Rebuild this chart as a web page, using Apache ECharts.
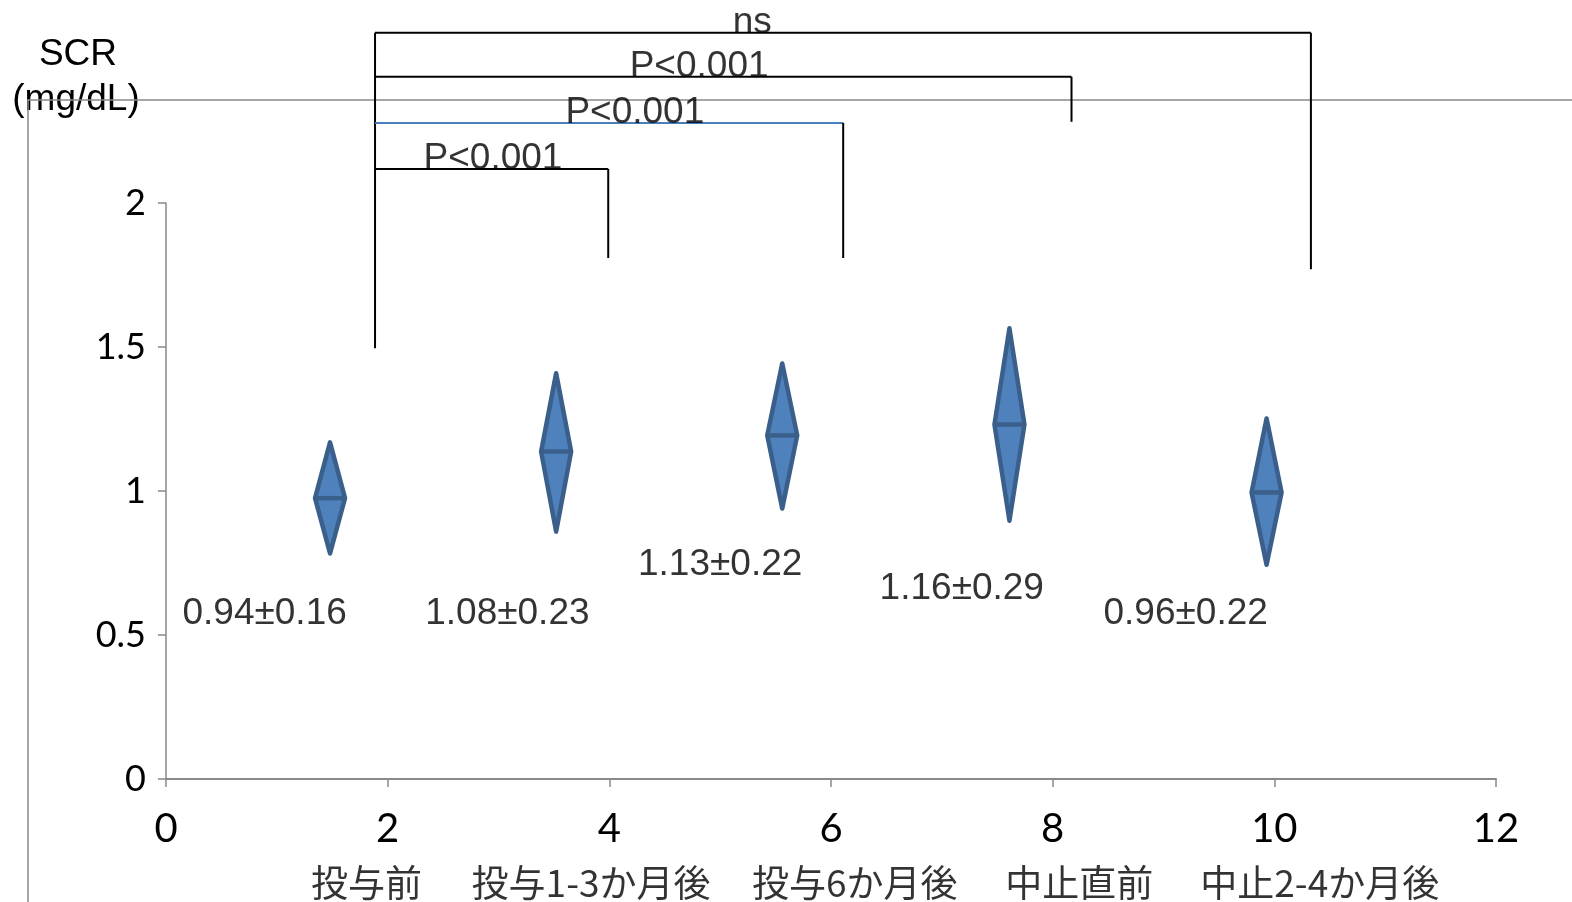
<!DOCTYPE html>
<html>
<head>
<meta charset="utf-8">
<script src="https://cdn.jsdelivr.net/npm/echarts@6/dist/echarts.min.js"></script>
<style>
html,body{margin:0;padding:0;background:#fff;}
#chart{width:1572px;height:902px;}
</style>
</head>
<body>
<div id="chart"></div>
<script>
// ---- data ----
const xPositions = [1.48, 3.52, 5.56, 7.61, 9.93];
const means      = [0.975, 1.137, 1.193, 1.231, 0.995];
const upperVals  = [1.169, 1.409, 1.443, 1.565, 1.252];
const lowerVals  = [0.783, 0.859, 0.939, 0.897, 0.744];

const valueLabelText = ['0.94±0.16', '1.08±0.23', '1.13±0.22', '1.16±0.29', '0.96±0.22'];
const valueLabelX = [0.89, 3.08, 5.0, 7.18, 9.2];
const valueLabelY = [0.574, 0.574, 0.745, 0.661, 0.574];

const categories = ['投与前', '投与1-3か月後', '投与6か月後', '中止直前', '中止2-4か月後'];
const categoryX = [1.81, 3.835, 6.215, 8.24, 10.41];
const categoryY = -0.36;

const bracketLeftX = 1.886;
const bracketLeftBottom = 1.496;
const bracketRightX = [10.33, 8.17, 6.11, 3.99];
const bracketTopY = [2.591, 2.438, 2.278, 2.118];
const bracketEndY = [1.770, 2.282, 1.809, 1.809];
const bracketLabels = ['ns', 'P<0.001', 'P<0.001', 'P<0.001'];
const bracketLabelX = [5.29, 4.81, 4.23, 2.95];
const bracketLineColors = ['#000000', '#000000', '#4a7ebb', '#000000'];

const yTicks = {min: 0, max: 2, interval: 0.5};
const xTicks = {min: 0, max: 12, interval: 2};

// ---- chart ----
const chart = echarts.init(document.getElementById('chart'), null, {renderer: 'canvas'});
const AX = '#898989';
const latin = "'Liberation Sans', Arial, sans-serif";

const series = [];

// diamonds
series.push({
  type: 'custom',
  xAxisIndex: 0, yAxisIndex: 0,
  clip: false,
  data: xPositions.map((x, i) => [x, means[i], upperVals[i], lowerVals[i]]),
  encode: {x: 0, y: [1, 2, 3]},
  renderItem: function (params, api) {
    const x = api.value(0);
    const mid = api.coord([x, api.value(1)]);
    const top = api.coord([x, api.value(2)]);
    const bot = api.coord([x, api.value(3)]);
    const hw = 15;
    return {
      type: 'group',
      children: [
        {type: 'polygon', shape: {points: [top, [mid[0] + hw, mid[1]], bot, [mid[0] - hw, mid[1]]]},
         style: {fill: '#4f81bd', stroke: '#3a5f8b', lineWidth: 4.5, lineJoin: 'round'}},
        {type: 'line', shape: {x1: mid[0] - hw, y1: mid[1], x2: mid[0] + hw, y2: mid[1]},
         style: {stroke: '#3a5f8b', lineWidth: 4.5}}
      ]
    };
  }
});

// bracket left shared vertical
series.push({
  type: 'line', clip: false, symbol: 'none', silent: true,
  data: [[bracketLeftX, Math.max.apply(null, bracketTopY)], [bracketLeftX, bracketLeftBottom]],
  lineStyle: {color: '#000', width: 2}
});
bracketRightX.forEach((rx, i) => {
  series.push({
    type: 'line', clip: false, symbol: 'none', silent: true,
    data: [[bracketLeftX, bracketTopY[i]], [rx, bracketTopY[i]]],
    lineStyle: {color: bracketLineColors[i], width: 2}
  });
  series.push({
    type: 'line', clip: false, symbol: 'none', silent: true,
    data: [[rx, bracketTopY[i]], [rx, bracketEndY[i]]],
    lineStyle: {color: '#000', width: 2}
  });
});
// bracket labels
series.push({
  type: 'scatter', clip: false, symbolSize: 0, silent: true,
  data: bracketLabelX.map((x, i) => ({value: [x, bracketTopY[i]], name: bracketLabels[i]})),
  label: {show: true, position: 'inside', offset: [0, -10], formatter: p => p.name,
          color: '#000', fontSize: 37, fontFamily: latin},
  z: 5
});
// value labels
series.push({
  type: 'scatter', clip: false, symbolSize: 0, silent: true,
  data: valueLabelX.map((x, i) => ({value: [x, valueLabelY[i]], name: valueLabelText[i]})),
  label: {show: true, position: 'inside', formatter: p => p.name,
          color: '#000', fontSize: 37, fontFamily: latin}
});
// category labels
series.push({
  type: 'scatter', clip: false, symbolSize: 0, silent: true,
  data: categoryX.map((x, i) => ({value: [x, categoryY], name: categories[i]})),
  label: {show: true, position: 'inside', formatter: p => p.name,
          color: '#000', fontSize: 37, fontFamily: "'Noto Sans CJK JP', sans-serif"}
});

chart.setOption({
  animation: false,
  backgroundColor: '#fff',
  grid: [
    {left: 166, right: 76, top: 203, bottom: 123, containLabel: false},
    {left: 28, right: 0, top: 100, bottom: 0, containLabel: false}
  ],
  xAxis: [
    {type: 'value', gridIndex: 0, min: xTicks.min, max: xTicks.max, interval: xTicks.interval,
     axisLine: {show: true, onZero: false, lineStyle: {color: AX, width: 2}},
     axisTick: {show: true, length: 8, lineStyle: {color: AX, width: 1.5}},
     splitLine: {show: false},
     axisLabel: {color: '#000', fontSize: 40, fontFamily: 'Lato, sans-serif', margin: 30}},
    {type: 'value', gridIndex: 1, position: 'top', min: 0, max: 1,
     axisLine: {show: true, onZero: false, lineStyle: {color: AX, width: 1.5}},
     axisTick: {show: false}, axisLabel: {show: false}, splitLine: {show: false}}
  ],
  yAxis: [
    {type: 'value', gridIndex: 0, min: yTicks.min, max: yTicks.max, interval: yTicks.interval,
     axisLine: {show: true, onZero: false, lineStyle: {color: AX, width: 1.5}},
     axisTick: {show: true, length: 8, lineStyle: {color: AX, width: 1.5}},
     splitLine: {show: false},
     axisLabel: {color: '#000', fontSize: 36, fontFamily: 'Lato, sans-serif', margin: 20}},
    {type: 'value', gridIndex: 1, min: 0, max: 1,
     axisLine: {show: true, onZero: false, lineStyle: {color: AX, width: 1.5}},
     axisTick: {show: false}, axisLabel: {show: false}, splitLine: {show: false}}
  ],
  graphic: [
    {type: 'text', x: 78, y: 55, style: {text: 'SCR', textAlign: 'center', textVerticalAlign: 'middle',
      font: "37px 'Liberation Sans', Arial, sans-serif", fill: '#000'}},
    {type: 'text', x: 76, y: 100, style: {text: '(mg/dL)', textAlign: 'center', textVerticalAlign: 'middle',
      font: "37px 'Liberation Sans', Arial, sans-serif", fill: '#000'}}
  ],
  series: series
});
</script>
</body>
</html>
